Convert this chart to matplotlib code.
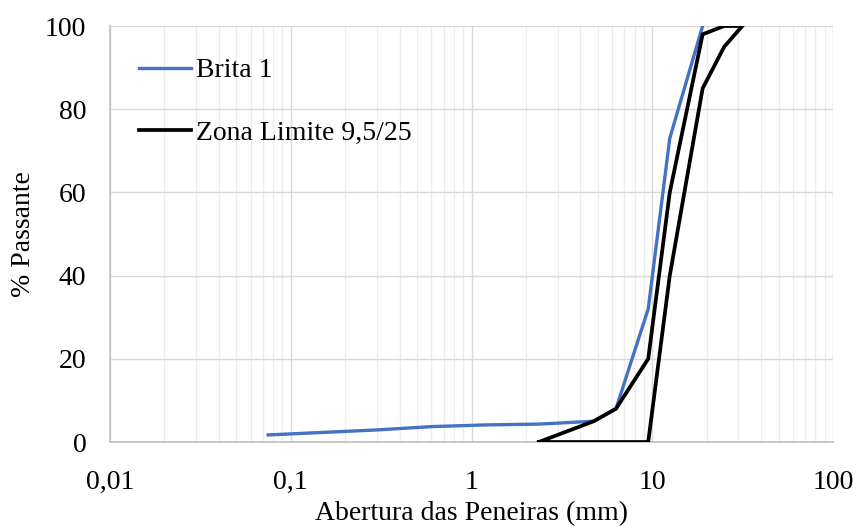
import matplotlib
matplotlib.use("Agg")
import matplotlib.pyplot as plt
from matplotlib.ticker import FixedLocator, FixedFormatter, LogLocator, NullFormatter

plt.rcParams['font.family'] = ['Liberation Serif', 'DejaVu Serif']

# Data
brita_x = [0.075, 0.15, 0.3, 0.6, 1.18, 2.36, 4.75, 6.3, 9.5, 12.5, 19]
brita_y = [1.7, 2.3, 2.9, 3.7, 4.1, 4.3, 5, 8, 32, 73, 100]
zona_x = [2.36, 4.75, 6.3, 9.5, 12.5, 19, 25, 31.5, 25, 19, 12.5, 9.5, 6.3, 4.75, 2.36]
zona_y = [0, 5, 8, 20, 60, 98, 100, 100, 95, 85, 40, 0, 0, 0, 0]
xticks = [0.01, 0.1, 1, 10, 100]
xtick_labels = ["0,01", "0,1", "1", "10", "100"]
yticks = [0, 20, 40, 60, 80, 100]

FS = 20

fig = plt.figure(figsize=(8.58, 5.26), dpi=100)
ax = fig.add_axes([110/858, 84/526, 723/858, 416/526])

ax.plot(brita_x, brita_y, color='#4472C4', lw=2.4, label='Brita 1', zorder=3,
        solid_joinstyle='round')
ax.plot(zona_x, zona_y, color='black', lw=2.7, label='Zona Limite 9,5/25', zorder=4,
        solid_joinstyle='miter')

ax.set_xscale('log')
ax.set_xlim(0.01, 100)
ax.set_ylim(0, 100)
ax.xaxis.set_major_locator(FixedLocator(xticks))
ax.xaxis.set_major_formatter(FixedFormatter(xtick_labels))
ax.xaxis.set_minor_locator(LogLocator(base=10, subs=range(2, 10)))
ax.xaxis.set_minor_formatter(NullFormatter())
ax.set_yticks(yticks)

ax.grid(which='major', axis='both', color='#d9d9d9', lw=1.0)
ax.grid(which='minor', axis='x', color='#ececec', lw=1.0)
ax.set_axisbelow(True)

for s in ['top', 'right']:
    ax.spines[s].set_visible(False)
for s in ['left', 'bottom']:
    ax.spines[s].set_color('#bfbfbf')
    ax.spines[s].set_linewidth(1.2)

ax.tick_params(which='both', length=0, labelsize=FS, colors='black')
ax.tick_params(axis='x', pad=20)
ax.tick_params(axis='y', pad=17)

ax.set_xlabel('Abertura das Peneiras (mm)', fontsize=FS)
ax.set_ylabel('% Passante', fontsize=FS)
ax.xaxis.set_label_coords(0.5, -0.172)
ax.xaxis.label.set_va('center')
ax.yaxis.set_label_coords(-0.12, 0.5)
ax.yaxis.label.set_va('center')

leg = ax.legend(loc='upper left', bbox_to_anchor=(0.025, 0.95), frameon=False,
                fontsize=FS, handlelength=1.85, handletextpad=0.2, labelspacing=1.33,
                borderaxespad=0)

fig.savefig('out.png', dpi=100)
